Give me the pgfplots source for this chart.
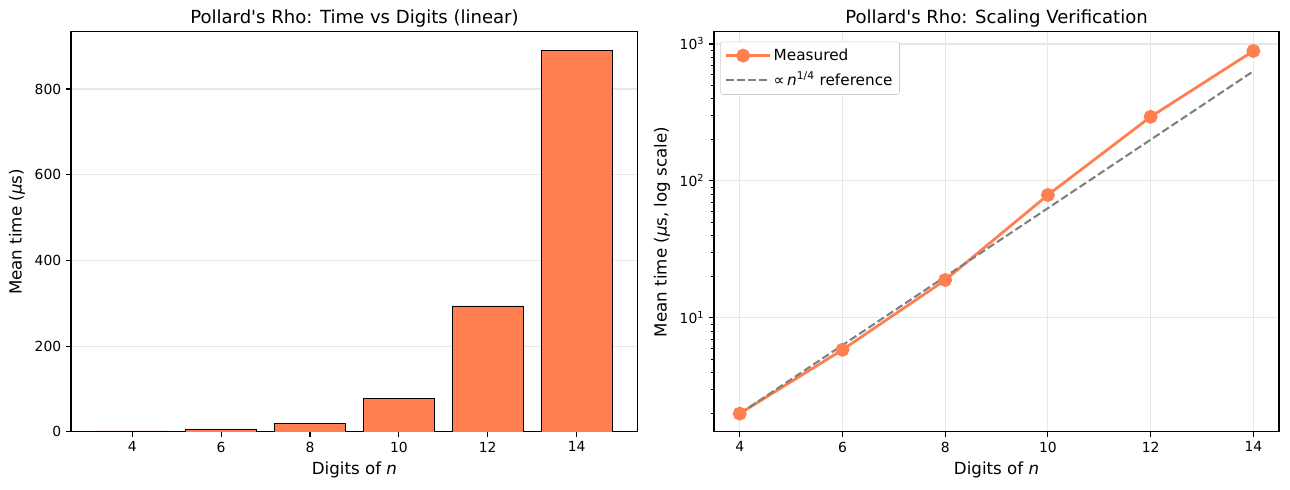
\documentclass[border=0pt]{standalone}
\usepackage{fontspec}
\setmainfont{DejaVu Sans}
\usepackage{pgfplots}
\pgfplotsset{compat=1.18}
\definecolor{coral}{RGB}{255,127,80}
\definecolor{gridc}{RGB}{231,231,231}
\begin{document}
\begin{tikzpicture}
\useasboundingbox (0,0) rectangle (928.8pt,352.8pt);
\pgfplotsset{mystyle/.style={
  scale only axis,
  axis line style={line width=0.8pt},
  tick align=outside, tick pos=left,
  major tick length=3.5pt, minor tick length=2pt,
  every tick/.style={black, line width=0.8pt},
  every minor tick/.style={black, line width=0.6pt},
  tick label style={font=\fontsize{10}{12}\selectfont},
  label style={font=\fontsize{12}{14}\selectfont},
  every axis title/.style={font=\fontsize{13}{15}\selectfont, at={(0.5,1)}, anchor=base, inner sep=0pt, yshift=6pt},
  /pgf/number format/assume math mode=true,
  grid style={gridc, line width=0.8pt},
}}
\begin{axis}[mystyle, at={(51.1pt,41.8pt)}, anchor=south west,
  width=408.2pt, height=288pt,
  xmin=2.62, xmax=15.38, ymin=0, ymax=933,
  xtick={4,6,...,14}, ytick={0,200,...,800},
  ymajorgrids, scaled y ticks=false,
  title={Pollard\textquotesingle s Rho: Time vs Digits (linear)},
  xlabel={Digits of \textit{n}},
  ylabel={Mean time (\textit{μ}s)}]
\addplot[ybar, bar width=1.6, fill=coral, draw=black, line width=0.5pt]
  coordinates {(4,2.2) (6,5.85) (8,18.9) (10,79) (12,294) (14,889)};
\end{axis}
\begin{axis}[mystyle, at={(514.1pt,41.8pt)}, anchor=south west,
  width=406.8pt, height=288pt,
  ymode=log, xmin=3.5, xmax=14.5, ymin=1.47, ymax=1224,
  xtick={4,6,...,14},
  ytick={10,100,1000},
  yticklabels={10\textsuperscript{1},10\textsuperscript{2},10\textsuperscript{3}},
  minor ytick={2,3,4,5,6,7,8,9,20,30,40,50,60,70,80,90,200,300,400,500,600,700,800,900},
  grid=major,
  title={Pollard\textquotesingle s Rho: Scaling Verification},
  xlabel={Digits of \textit{n}},
  ylabel={Mean time (\textit{μ}s, log scale)},
  legend style={at={(0.011,0.976)}, anchor=north west, draw=gray!40, fill=white,
    rounded corners=2pt, font=\fontsize{11}{13}\selectfont, cells={anchor=west},
    row sep=3pt, inner xsep=3pt, inner ysep=3pt},
  legend image code/.code={\path (0cm,0cm) -- (1.1cm,0cm);\draw[mark repeat=2,mark phase=2,#1] plot coordinates {(0cm,0cm) (0.43cm,0cm) (0.86cm,0cm)};}]
\addplot[coral, line width=2pt, mark=*, mark size=4pt, mark options={fill=coral, draw=coral}]
  coordinates {(4,2.0) (6,5.85) (8,18.9) (10,79) (12,294) (14,889)};
\addlegendentry{Measured}
\addplot[gray, line width=1.5pt, dash pattern=on 5.55pt off 2.4pt]
  coordinates {(4,2) (6,6.32) (8,20) (10,63.2) (12,200) (14,632.5)};
\addlegendentry{∝\,\textit{n}\textsuperscript{1/4} reference}
\end{axis}
\end{tikzpicture}
\end{document}
